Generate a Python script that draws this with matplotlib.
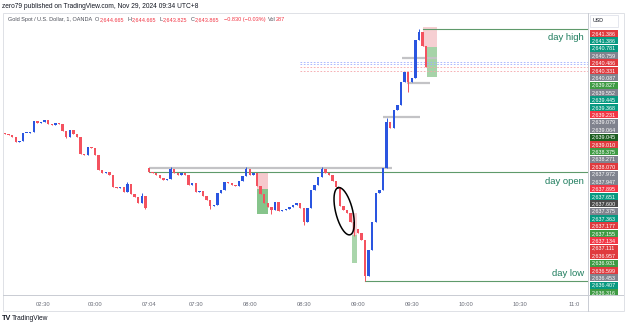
import matplotlib
matplotlib.use('Agg')
import matplotlib.pyplot as plt
import numpy as np
from matplotlib.patches import Rectangle

plt.rcParams['font.family'] = ['Liberation Sans', 'DejaVu Sans']

# ---------------- data ----------------
session_opens = [2639.30, 2638.59]          # first open of each session
session1_close = [2639.27, 2639.25, 2639.21, 2639.11, 2639.13, 2639.29, 2639.30, 2639.31,
                  2639.54, 2639.50, 2639.51, 2639.56, 2639.48, 2639.46, 2639.49, 2639.47,
                  2639.33, 2639.21, 2639.35, 2639.27, 2639.21, 2638.87, 2638.85, 2639.01,
                  2638.99, 2638.85, 2638.55, 2638.49, 2638.51, 2638.45, 2638.21, 2638.19,
                  2638.21, 2638.11, 2638.27, 2638.07, 2638.01, 2637.89, 2638.03, 2637.78]
session2_close = [2638.51, 2638.49, 2638.45, 2638.39, 2638.35, 2638.37, 2638.57, 2638.49,
                  2638.45, 2638.48, 2638.44, 2638.25, 2638.29, 2638.11, 2638.13, 2638.03,
                  2637.95, 2637.83, 2637.85, 2638.09, 2638.15, 2638.31, 2638.29, 2638.25,
                  2638.23, 2638.33, 2638.43, 2638.57, 2638.45, 2638.49, 2638.23, 2638.07,
                  2637.89, 2637.80, 2637.74, 2637.91, 2637.72, 2637.74, 2637.76, 2637.80,
                  2637.85, 2637.89, 2637.78, 2637.50, 2637.78, 2638.15, 2638.25, 2638.41,
                  2638.57, 2638.49, 2638.45, 2638.33, 2638.21, 2637.83, 2637.74, 2637.68,
                  2637.50, 2637.36, 2637.28, 2637.14, 2636.42, 2636.94, 2637.50, 2638.09,
                  2638.15, 2638.59, 2639.52, 2639.39, 2639.76, 2639.86, 2640.32, 2640.52,
                  2640.32, 2640.40, 2641.17, 2641.33, 2641.04, 2640.62]
wick_idx = [17, 34, 38, 39, 46, 57, 67, 74, 83, 88, 97, 100, 106, 112, 115]
wick_high = [None, 2638.31, 2638.09, None, 2638.61, None, 2638.61, None, None, 2638.61,
             None, None, 2639.60, None, 2641.386]
wick_low = [2639.19, None, None, 2637.76, None, 2637.76, None, 2637.66, 2637.44, None,
            2637.22, 2636.316, None, 2640.12, None]

time_labels = ['02:30', '03:00', '07:04', '07:30', '08:00', '08:30', '09:00', '09:30',
               '10:00', '10:30', '11:0']
day_high, day_open, day_low = 2641.386, 2638.50, 2636.316

axis_values = ['2,641.386', '2,641.386', '2,640.781', '2,640.759', '2,640.486', '2,640.331',
               '2,640.087', '2,639.827', '2,639.552', '2,639.445', '2,639.368', '2,639.231',
               '2,639.079', '2,639.064', '2,639.045', '2,639.010', '2,638.375', '2,638.271',
               '2,638.070', '2,637.972', '2,637.947', '2,637.895', '2,637.651', '2,637.600',
               '2,637.375', '2,637.363', '2,637.177', '2,637.155', '2,637.134', '2,637.111',
               '2,636.957', '2,636.931', '2,636.599', '2,636.453', '2,636.407', '2,636.316']
axis_kinds = ['r', 't', 't', 'g', 'r', 'r', 'g', 'G', 'g', 't', 't', 'p',
              'g', 'g', 'D', 'r', 'G', 'g', 'r', 'g', 'g', 'p', 't', 'k',
              'g', 't', 'r', 'G', 'p', 'r', 'r', 'G', 'r', 'g', 't', 'G']
kind_color = {'r': '#e03a3e', 'p': '#f23645', 't': '#089981', 'g': '#80838e',
              'G': '#3f9b44', 'D': '#1d5e22', 'k': '#4a4a4a'}

# ---------------- build candles ----------------
closes = np.array(session1_close + session2_close)
opens = np.empty_like(closes)
opens[0] = session_opens[0]
opens[1:] = closes[:-1]
opens[len(session1_close)] = session_opens[1]
highs = np.maximum(opens, closes)
lows = np.minimum(opens, closes)
for i, h, l in zip(wick_idx, wick_high, wick_low):
    if h is not None:
        highs[i] = max(highs[i], h)
    if l is not None:
        lows[i] = min(lows[i], l)
n = len(closes)
x = np.arange(n)

W, H = 625, 326
fig = plt.figure(figsize=(W / 100, H / 100), dpi=100)
fig.patch.set_facecolor('white')


def fax(l, t, r, b):
    return [l / W, 1 - b / H, (r - l) / W, (b - t) / H]


ax = fig.add_axes(fax(3, 14, 588, 295))
ax.set_xlim(-0.556, 161.94)
ax.set_ylim(2636.034, 2641.688)
for s in ax.spines.values():
    s.set_visible(False)
ax.set_yticks([])
tick_pos = [10.5, 25, 40, 53, 68, 83, 98, 113, 128, 143, 158]
ax.set_xticks(tick_pos)
ax.set_xticklabels(time_labels)
ax.tick_params(axis='x', length=0, pad=5, labelsize=4.2, labelcolor='#6a6d78')

up_c, dn_c = '#2a55e0', '#f4525f'
cols = np.where(closes >= opens, up_c, dn_c)

# position boxes
boxes = [((70, 73.1), (2638.17, 2638.51), '#f6c9cd'), ((70, 73.1), (2637.66, 2638.17), '#86c48b'),
         ((96.4, 97.8), (2637.24, 2637.68), '#f6d3d6'), ((96.4, 97.8), (2636.68, 2637.24), '#a9d5ab'),
         ((116.1, 120), (2641.02, 2641.43), '#f6cfd2'), ((117.2, 120), (2640.42, 2641.02), '#a6d3a8')]
for (x0, x1), (y0, y1), c in boxes:
    ax.add_patch(Rectangle((x0, y0), x1 - x0, y1 - y0, facecolor=c, edgecolor='none', zorder=1))

# gray level lines
grays = [(40, 107.5, 2638.59), (105, 115.3, 2639.61), (111.7, 118, 2640.30), (110.3, 120, 2640.81)]
for a0, a1, p in grays:
    ax.plot([a0, a1], [p, p], color='#c3c3c6', lw=1.6, zorder=2, solid_capstyle='butt')

# dotted lines
for p, c in [(2640.73, '#9fb0ff'), (2640.69, '#9fb0ff'), (2640.63, '#f5a3a8'), (2640.55, '#f5a3a8')]:
    ax.plot([82, 161.94], [p, p], color=c, lw=0.6, ls=(0, (2, 2)), zorder=2)

# day lines
line_c = '#5f9a6b'
ax.plot([40, 161.94], [day_open, day_open], color=line_c, lw=0.8, zorder=2)
ax.plot([116, 161.94], [day_high, day_high], color=line_c, lw=0.8, zorder=2)
ax.plot([100, 161.94], [day_low, day_low], color=line_c, lw=0.8, zorder=2)

# candles
ax.vlines(x, lows, highs, colors=cols, lw=0.7, zorder=3)
ax.bar(x, np.maximum(np.abs(closes - opens), 0.014), bottom=np.minimum(opens, closes),
       width=0.62, color=cols, lw=0, zorder=4)

# ellipse annotation
ell_k, ell_p = 94.2, 2637.72
t = np.linspace(0, 2 * np.pi, 200)
a_maj, b_min, ang = 24.3, 8.5, np.deg2rad(104)
dx = a_maj * np.cos(t) * np.cos(ang) - b_min * np.sin(t) * np.sin(ang)
dy = a_maj * np.cos(t) * np.sin(ang) + b_min * np.sin(t) * np.cos(ang)
ax.plot(ell_k + dx / 3.6, ell_p + dy / 49.7, color='black', lw=1.1, zorder=5)

txt_c = '#1f7d5e'
ax.text(160.8, day_high - 0.17, 'day high', ha='right', va='center', fontsize=6.8, color=txt_c)
ax.text(160.8, day_open - 0.19, 'day open', ha='right', va='center', fontsize=6.8, color=txt_c)
ax.text(160.8, day_low + 0.16, 'day low', ha='right', va='center', fontsize=6.8, color=txt_c)

# ---------------- overlay: frame, price axis, header ----------------
ov = fig.add_axes([0, 0, 1, 1], zorder=10)
ov.set_xlim(0, W)
ov.set_ylim(H, 0)
ov.axis('off')
ov.patch.set_alpha(0)
frame_c = '#dfe1e6'
ov.add_patch(Rectangle((2.5, 13), 621, 298, facecolor='none', edgecolor=frame_c, lw=0.7))
ov.plot([3, 623], [295, 295], color='#c9ccd3', lw=0.7)
ov.plot([588, 588], [13, 311], color='#c9ccd3', lw=0.7)
ov.add_patch(Rectangle((588.5, 13.5), 34.5, 297, facecolor='white', edgecolor='none', zorder=0))

# USD box
ov.add_patch(Rectangle((589.5, 15), 28, 12, facecolor='white', edgecolor='#e0e3eb', lw=0.6))
ov.text(593, 21, 'USD', fontsize=3.8, color='#131722', va='center', ha='left')

y0, step = 33.3, 7.41
for i, (v, k) in enumerate(zip(axis_values, axis_kinds)):
    yc = y0 + i * step
    ov.add_patch(Rectangle((589.5, yc - step / 2 + 0.2), 28, step - 0.4,
                           facecolor=kind_color[k], edgecolor='none'))
    ov.text(603.5, yc, v, fontsize=3.9, color='white', ha='center', va='center')

ov.text(2, 6, 'zero79 published on TradingView.com, Nov 29, 2024 09:34 UTC+8',
        fontsize=4.8, color='#131722', va='center', ha='left')

dark, red = '#4a4d57', '#f23645'
pieces = [('Gold Spot / U.S. Dollar, 1, OANDA', dark, 0), ('O', dark, 3), ('2,644.665', red, 0.5),
          ('H', dark, 3), ('2,644.665', red, 0.5), ('L', dark, 3), ('2,643.825', red, 0.5),
          ('C', dark, 3), ('2,643.865', red, 0.5), ('\u22120.830 (\u22120.03%)', red, 4),
          ('Vol', dark, 3), ('287', red, 0.3)]
fig.canvas.draw()
r = fig.canvas.get_renderer()
xc = 8
for s, c, gap in pieces:
    xc += gap
    tt = ov.text(xc, 19.5, s, fontsize=4.0, color=c, va='center', ha='left')
    bb = tt.get_window_extent(renderer=r)
    xc += bb.width

ov.text(2, 318.5, 'TV', fontsize=5.2, fontweight='bold', color='#131722', va='center', ha='left')
ov.text(11.5, 318.5, 'TradingView', fontsize=4.8, color='#131722', va='center', ha='left')

fig.savefig('out.png', dpi=100, facecolor='white')
